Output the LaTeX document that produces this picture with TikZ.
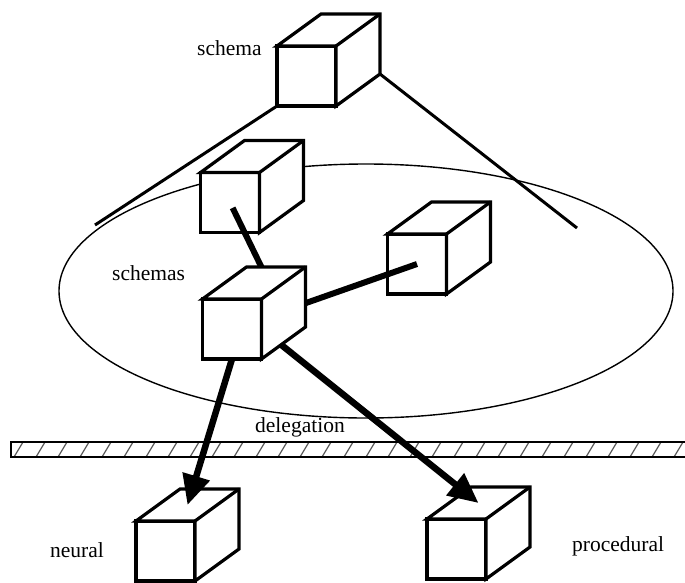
\documentclass[tikz,border=0pt]{standalone}
\usepackage{fontspec}
\setmainfont{Liberation Serif}
\usetikzlibrary{arrows.meta}
\tikzset{
  cubebox/.style={minimum width=59pt, minimum height=60pt, inner sep=0pt, outer sep=0pt},
  cubeline/.style={line width=3.2pt, line join=miter, fill=white},
  link/.style={line width=6pt},
  delegate/.style={line width=6.5pt, -{Triangle[length=30pt,width=27pt]}},
  tag/.style={anchor=base west, inner sep=0pt, font=\fontsize{21.5}{26}\selectfont},
}
% place a cube (front face node plus a few named points), draw it later
\newcommand{\placecube}[3]{%
  \node[cubebox] (#1) at (#2,#3) {};
  \path (#1.north) ++(22,-16) coordinate (#1-top);
  \path (#1.center) ++(44,-32) coordinate (#1-back);
  \path (#1.south east) ++(44,-32) coordinate (#1-rear);
}
\newcommand{\drawcube}[1]{%
  \filldraw[cubeline] (#1.south west) rectangle (#1.north east);
  \filldraw[cubeline] (#1.north west) -- ++(44,-32) -- ++(59,0) -- ++(0,60)
    -- (#1.south east) -- (#1.north east) -- cycle;
  \draw[cubeline] (#1.north east) -- ++(44,-32);
}
\begin{document}
\begin{tikzpicture}[x=1pt, y=-1pt]
\useasboundingbox (0,0) rectangle (685,582);
%% cubes
\placecube{schema}{306.5}{76}
\placecube{sub}{230}{202.5}
\placecube{hub}{232}{329}
\placecube{peer}{417}{264}
\placecube{neural}{165.5}{551}
\placecube{procedural}{456.5}{549}
%% schemas ellipse
\draw[line width=1.4pt] (366,291) ellipse [x radius=307pt, y radius=127pt];
\coordinate (leftend) at (95,225);
\coordinate (rightend) at (577,228);
\draw[line width=3pt] (schema.south west) -- (leftend);
\draw[line width=3pt] (schema-rear) -- (rightend);
\drawcube{schema}
\drawcube{peer}
\drawcube{sub}
%% links between schemas
\draw[link, shorten <=6pt] (sub.center) -- (hub-back);
\draw[link] (hub.center) -- (peer.center);
%% hatched boundary
\begin{scope}
  \clip (11,442) rectangle (700,457);
  \foreach \x in {14,36,...,700}
    \draw[gray!70!black, line width=1.2pt] (\x,457) -- ++(9,-15);
\end{scope}
\draw[line width=2pt] (11,442) rectangle (700,457);
\drawcube{neural}
\drawcube{procedural}
%% delegation
\draw[delegate] (hub.south) -- (neural-top);
\draw[delegate] (hub.east) -- (procedural-top);
\drawcube{hub}
%% labels
\node[tag] (schemalabel) at (197,55) {schema};
\node[tag] (schemaslabel) at (112,280) {schemas};
\node[tag] (delegationlabel) at (255,432) {delegation};
\node[tag] (neurallabel) at (50,557) {neural};
\node[tag] (procedurallabel) at (572,551) {procedural};
\end{tikzpicture}
\end{document}
